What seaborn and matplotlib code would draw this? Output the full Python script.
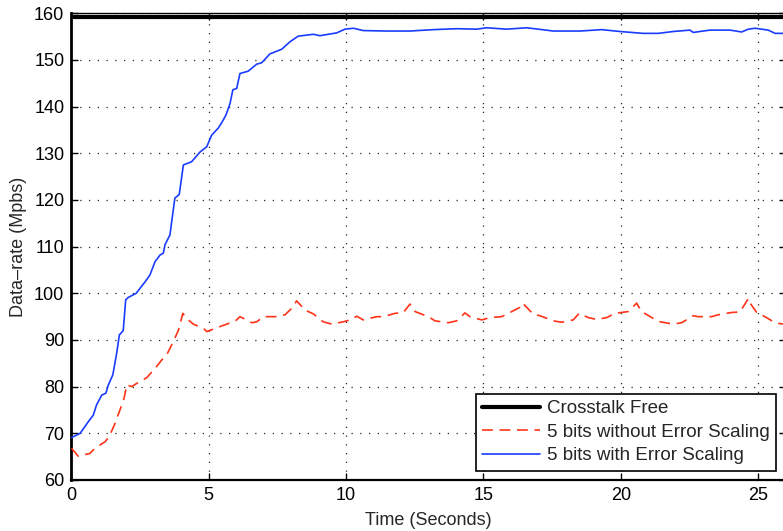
import matplotlib
matplotlib.use("Agg")
import matplotlib.pyplot as plt
import seaborn as sns
import pandas as pd

# Crosstalk-free reference rate (Mbps)
crosstalk_free_t = [0.0, 26.0]
crosstalk_free_rate = [159.2, 159.2]

# 5 bits without error scaling
no_scaling_t = [0.01, 0.25, 0.68, 0.86, 1.23, 1.38, 1.59, 1.77, 1.92, 2.02,
                2.20, 2.38, 2.74, 3.05, 3.29, 3.47, 3.71, 3.90, 4.06, 4.20,
                4.44, 4.81, 4.93, 5.47, 5.66, 6.00, 6.14, 6.57, 6.75, 6.99,
                7.48, 7.78, 8.08, 8.20, 8.51, 8.81, 9.17, 9.48, 9.90, 10.15,
                10.39, 10.63, 11.12, 11.36, 11.78, 12.09, 12.33, 12.51, 13.00, 13.24,
                13.72, 14.03, 14.33, 14.51, 14.94, 15.24, 15.67, 15.91, 16.33, 16.43,
                16.82, 17.06, 17.55, 17.85, 18.27, 18.49, 18.82, 19.13, 19.49, 19.79,
                20.28, 20.58, 20.76, 21.19, 21.43, 21.91, 22.22, 22.64, 22.82, 23.31,
                23.55, 24.04, 24.34, 24.65, 24.71, 24.95, 25.25, 25.62, 25.91]
no_scaling_rate = [66.8, 65.1, 65.7, 66.8, 68.2, 69.3, 72.1, 75.0, 77.5, 80.4,
                   80.0, 80.7, 81.9, 83.9, 85.7, 86.8, 89.6, 92.1, 95.7, 94.6,
                   93.4, 92.5, 91.8, 93.0, 93.4, 94.2, 95.0, 93.7, 93.9, 95.0,
                   95.0, 95.4, 97.1, 98.4, 96.4, 95.6, 93.9, 93.4, 93.9, 94.3,
                   95.1, 94.3, 95.0, 95.0, 95.7, 95.9, 97.7, 96.1, 95.0, 94.1,
                   93.7, 94.1, 95.8, 95.0, 94.3, 94.8, 95.0, 95.7, 97.0, 97.9,
                   95.5, 95.2, 94.1, 93.8, 94.3, 95.7, 94.8, 94.4, 94.8, 95.7,
                   96.1, 97.9, 96.1, 94.6, 93.9, 93.4, 93.7, 95.2, 95.0, 95.0,
                   95.4, 95.9, 96.0, 98.9, 97.9, 95.9, 95.0, 93.7, 93.4]

# 5 bits with error scaling
scaling_t = [0.01, 0.32, 0.62, 0.80, 0.92, 1.11, 1.26, 1.35, 1.51, 1.65,
             1.75, 1.89, 1.98, 2.07, 2.36, 2.69, 2.86, 3.05, 3.23, 3.35,
             3.41, 3.59, 3.77, 3.93, 4.08, 4.38, 4.69, 4.93, 5.11, 5.35,
             5.48, 5.63, 5.78, 5.88, 6.02, 6.14, 6.44, 6.75, 6.93, 7.23,
             7.66, 7.96, 8.26, 8.81, 9.05, 9.66, 9.96, 10.27, 10.63, 11.48,
             12.33, 13.18, 14.03, 14.76, 15.12, 15.85, 16.58, 17.55, 18.52, 19.31,
             19.97, 20.82, 21.37, 21.91, 22.52, 22.64, 23.25, 23.98, 24.40, 24.65,
             24.89, 25.37, 25.62, 25.91]
scaling_rate = [69.1, 70.0, 72.5, 73.9, 76.1, 78.2, 78.6, 80.4, 82.5, 87.1,
                91.1, 92.0, 98.6, 99.1, 100.0, 102.5, 103.9, 106.8, 108.2, 108.6,
                110.4, 112.5, 120.4, 121.2, 127.5, 128.2, 130.3, 131.4, 133.9, 135.4,
                136.6, 138.2, 140.7, 143.6, 143.9, 147.1, 147.6, 149.1, 149.4, 151.3,
                152.3, 153.9, 155.1, 155.5, 155.2, 155.8, 156.6, 156.8, 156.3, 156.2,
                156.2, 156.5, 156.7, 156.6, 156.9, 156.6, 156.9, 156.2, 156.2, 156.5,
                156.1, 155.7, 155.7, 156.1, 156.4, 155.9, 156.4, 156.4, 156.0, 156.6,
                156.8, 156.4, 155.7, 155.7]

x_ticks = [0, 5, 10, 15, 20, 25]
y_ticks = [60, 70, 80, 90, 100, 110, 120, 130, 140, 150, 160]

sns.set_style("ticks")
plt.rcParams["font.family"] = ["Liberation Sans", "DejaVu Sans"]
plt.rcParams["font.size"] = 13

fig = plt.figure(figsize=(7.83, 5.31), dpi=100)
ax = fig.add_axes([71.3 / 783, 51 / 531, 26 * 27.47 / 783, 466.7 / 531])

df_free = pd.DataFrame({"t": crosstalk_free_t, "rate": crosstalk_free_rate})
df_no = pd.DataFrame({"t": no_scaling_t, "rate": no_scaling_rate})
df_sc = pd.DataFrame({"t": scaling_t, "rate": scaling_rate})

sns.lineplot(data=df_free, x="t", y="rate", ax=ax, color="black", lw=3.0,
             label="Crosstalk Free", estimator=None, zorder=3)
sns.lineplot(data=df_no, x="t", y="rate", ax=ax, color="#ff3318", lw=1.2,
             linestyle=(0, (6.5, 4)), label="5 bits without Error Scaling",
             estimator=None, zorder=3)
sns.lineplot(data=df_sc, x="t", y="rate", ax=ax, color="#1a3cff", lw=1.2,
             label="5 bits with Error Scaling", estimator=None, zorder=3)

ax.set_xlim(0, 26)
ax.set_ylim(60, 160)
ax.set_xticks(x_ticks)
ax.set_yticks(y_ticks)
ax.grid(True, color="0.15", linestyle=(0, (1, 6)), lw=0.9)
ax.tick_params(direction="in", length=5, width=1, top=True, right=True,
               labelsize=13, colors="black")
ax.tick_params(axis="x", pad=5)
ax.tick_params(axis="y", pad=5)
for s in ax.spines.values():
    s.set_color("black")
ax.spines["left"].set_linewidth(2.0)
ax.spines["bottom"].set_linewidth(1.6)
ax.spines["top"].set_linewidth(1.0)
ax.spines["right"].set_linewidth(1.6)

ax.set_xlabel("Time (Seconds)", fontsize=13, labelpad=6)
ax.set_ylabel("Data\u2013rate (Mpbs)", fontsize=13, labelpad=5)

leg = ax.legend(loc="lower right", fontsize=13.5, frameon=True, fancybox=False,
                framealpha=1, edgecolor="black", borderaxespad=0.5,
                handlelength=3.1, handletextpad=0.35, labelspacing=0.33,
                borderpad=0.35)
leg.get_frame().set_linewidth(1.2)

fig.savefig("out.png", dpi=100)
